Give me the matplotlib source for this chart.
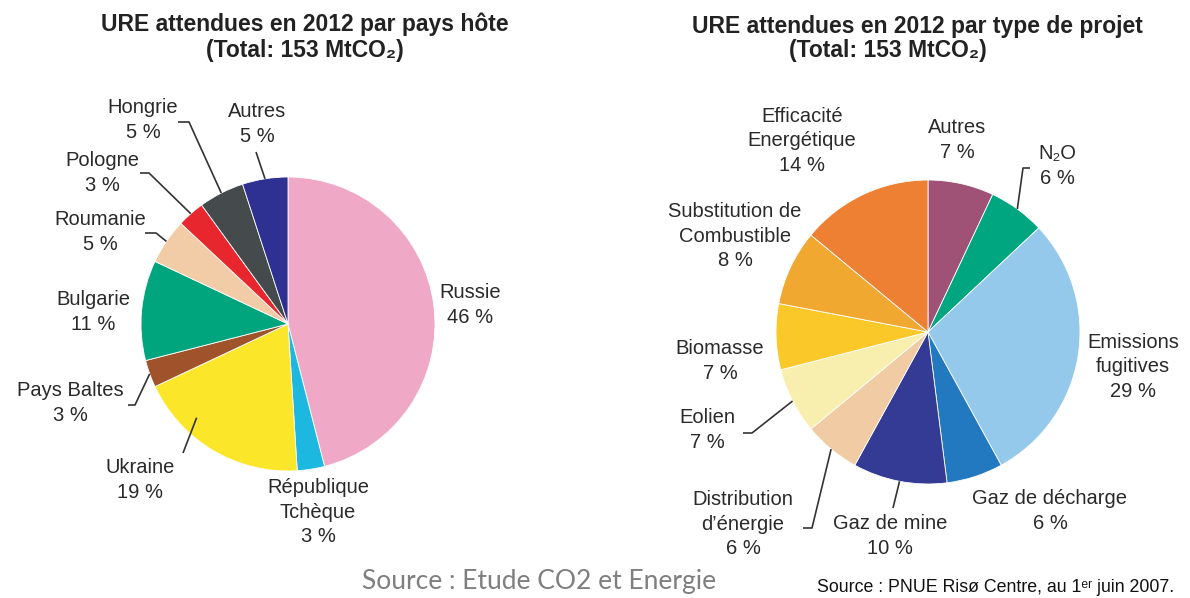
import matplotlib
matplotlib.use("Agg")
import matplotlib.pyplot as plt
import numpy as np

# Parts of the 2012 ERU total, by host country
pays_labels = ["Russie", "République\nTchèque", "Ukraine", "Pays Baltes", "Bulgarie",
               "Roumanie", "Pologne", "Hongrie", "Autres"]
pays_values = [46, 3, 19, 3, 11, 5, 3, 5, 5]
pays_colors = ["#EFA9C6", "#1CB8E0", "#FBE62A", "#A0532B", "#00A57E",
               "#F2CCA6", "#E8262E", "#454B4D", "#2E3192"]

# Parts of the 2012 ERU total, by project type
projet_labels = ["Autres", "N₂O", "Emissions\nfugitives", "Gaz de décharge", "Gaz de mine",
                 "Distribution\nd’énergie", "Eolien", "Biomasse",
                 "Substitution de\nCombustible", "Efficacité\nEnergétique"]
projet_values = [7, 6, 29, 6, 10, 6, 7, 7, 8, 14]
projet_colors = ["#A05276", "#00A67F", "#95C9EC", "#2279C0", "#333B94",
                 "#F1CBA4", "#F8EFAE", "#FBC82A", "#F0A830", "#EE8033"]

W, H = 1190, 598
FONT = ["Liberation Sans", "DejaVu Sans"]
TXT = "#2a2a2a"


def Y(y):
    # image rows run downwards, the axes runs upwards
    return H - y


def edge_point(values, i, center, radius, frac=0.5, rfac=1.0):
    """Point inside wedge i of a clockwise pie starting at 12 o'clock."""
    total = float(sum(values))
    start = sum(values[:i])
    theta = np.deg2rad(90 - 360 * (start + frac * values[i]) / total)
    return (center[0] + rfac * radius * np.cos(theta),
            center[1] + rfac * radius * np.sin(theta))


fig = plt.figure(figsize=(W / 100, H / 100), dpi=100)
ax = fig.add_axes([0, 0, 1, 1])

left_c, left_r = (288, Y(324)), 147
right_c, right_r = (928, Y(332)), 152

wp = dict(edgecolor="white", linewidth=0.6)
ax.pie(pays_values, colors=pays_colors, startangle=90, counterclock=False,
       center=left_c, radius=left_r, wedgeprops=wp)
ax.pie(projet_values, colors=projet_colors, startangle=90, counterclock=False,
       center=right_c, radius=right_r, wedgeprops=wp)

ax.set_xlim(0, W)
ax.set_ylim(0, H)
ax.set_aspect("auto")
ax.axis("off")

# label block centres (image px) and optional leader line
# leader: (text-side points, frac within wedge, radius factor)
pays_layout = {
    "Russie": ((470, 305), None),
    "République\nTchèque": ((318, 512), None),
    "Ukraine": ((140, 480), ([(183, 453)], 0.70, 0.89)),
    "Pays Baltes": ((70, 403), ([(128, 405), (135, 405)], 0.5, 1.0)),
    "Bulgarie": ((93, 312), None),
    "Roumanie": ((100, 232), ([(145, 233), (156, 233)], 0.5, 1.0)),
    "Pologne": ((102, 173), ([(140, 173), (149, 173)], 0.5, 1.0)),
    "Hongrie": ((143, 120), ([(178, 122), (189, 122)], 0.5, 1.0)),
    "Autres": ((257, 124), ([(256, 152)], 0.5, 1.0)),
}
projet_layout = {
    "Autres": ((957, 140), None),
    "N₂O": ((1057, 166), ([(1030, 168), (1023, 168)], 0.5, 1.0)),
    "Emissions\nfugitives": ((1133, 367), None),
    "Gaz de décharge": ((1050, 511), None),
    "Gaz de mine": ((890, 536), ([(893, 508)], 0.5, 1.0)),
    "Distribution\nd’énergie": ((743, 524), ([(803, 528), (812, 528)], 0.5, 1.0)),
    "Eolien": ((707, 430), ([(743, 433), (752, 433)], 0.5, 1.0)),
    "Biomasse": ((720, 361), None),
    "Substitution de\nCombustible": ((735, 236), None),
    "Efficacité\nEnergétique": ((802, 141), None),
}


def draw_labels(labels, values, layout, center, radius):
    for i, (name, val) in enumerate(zip(labels, values)):
        (tx, ty), leader = layout[name]
        ax.text(tx, Y(ty), f"{name}\n{val} %", ha="center", va="center",
                fontsize=14.5, family=FONT, color=TXT, linespacing=1.38)
        if leader:
            pts, frac, rfac = leader
            xs = [p[0] for p in pts]
            ys = [Y(p[1]) for p in pts]
            ex, ey = edge_point(values, i, center, radius, frac, rfac)
            ax.plot(xs + [ex], ys + [ey], color="#333333", lw=1.2,
                    solid_capstyle="butt")


draw_labels(pays_labels, pays_values, pays_layout, left_c, left_r)
draw_labels(projet_labels, projet_values, projet_layout, right_c, right_r)

# titles
tkw = dict(ha="center", va="center", fontsize=16.5, fontweight="bold",
           family=FONT, color="#222222")
ax.text(305, Y(24), "URE attendues en 2012 par pays hôte", **tkw)
ax.text(305, Y(51), "(Total: 153 MtCO₂)", **tkw)
ax.text(917, Y(26), "URE attendues en 2012 par type de projet", **tkw)
ax.text(888, Y(51), "(Total: 153 MtCO₂)", **tkw)

# sources
ax.text(539, Y(581), "Source : Etude CO2 et Energie", ha="center", va="center",
        fontsize=19, family=["Lato", "DejaVu Sans"], color="#7f7f7f")
ax.text(996, Y(588), "Source : PNUE Risø Centre, au 1ᵉʳ juin 2007.", ha="center",
        va="center", fontsize=12.8,
        family=["Liberation Sans Narrow", "Liberation Sans", "DejaVu Sans"],
        color="#111111")

fig.savefig("out.png", dpi=100, facecolor="white")
